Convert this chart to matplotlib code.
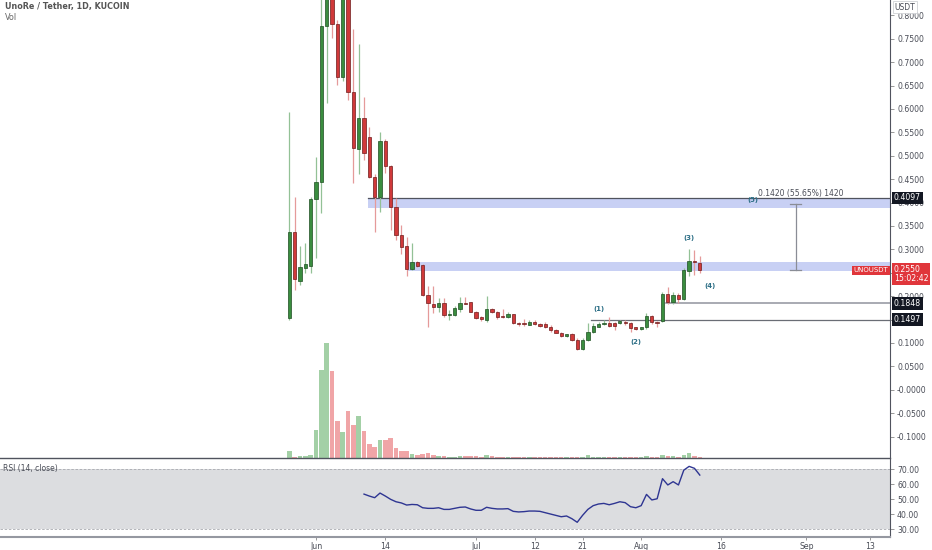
import matplotlib.pyplot as plt
import numpy as np
import pandas as pd

# daily candles UNO/USDT (KuCoin), 27 May -> 12 Aug 2021
start_date = '2021-05-27'
opens = [0.1526, 0.3376, 0.232, 0.261, 0.265, 0.4075, 0.443, 0.778, 0.95, 0.781,
         0.669, 0.92, 0.637, 0.514, 0.580, 0.541, 0.455, 0.412, 0.532, 0.477,
         0.391, 0.3305, 0.306, 0.257, 0.272, 0.266, 0.2024, 0.183, 0.176, 0.186,
         0.160, 0.160, 0.172, 0.186, 0.187, 0.167, 0.156, 0.150, 0.173, 0.167,
         0.158, 0.156, 0.161, 0.143, 0.141, 0.139, 0.144, 0.141, 0.140, 0.135,
         0.128, 0.122, 0.114, 0.119, 0.106, 0.0863, 0.106, 0.124, 0.135, 0.140,
         0.143, 0.142, 0.142, 0.145, 0.143, 0.133, 0.129, 0.133, 0.157, 0.145,
         0.1475, 0.2045, 0.188, 0.203, 0.193, 0.254, 0.275, 0.270]
highs = [0.593, 0.411, 0.306, 0.314, 0.412, 0.497, 0.86, 1.05, 0.98, 0.79,
         1.00, 0.96, 0.770, 0.738, 0.625, 0.562, 0.46, 0.55, 0.535, 0.48,
         0.409, 0.351, 0.327, 0.313, 0.275, 0.268, 0.2216, 0.221, 0.197, 0.197,
         0.170, 0.178, 0.199, 0.199, 0.188, 0.168, 0.158, 0.200, 0.175, 0.169,
         0.172, 0.165, 0.162, 0.145, 0.152, 0.148, 0.149, 0.143, 0.145, 0.138,
         0.130, 0.124, 0.120, 0.121, 0.110, 0.111, 0.142, 0.142, 0.144, 0.149,
         0.155, 0.144, 0.148, 0.148, 0.145, 0.134, 0.135, 0.164, 0.159, 0.146,
         0.209, 0.220, 0.209, 0.207, 0.259, 0.300, 0.298, 0.286]
lows = [0.150, 0.213, 0.224, 0.250, 0.250, 0.281, 0.377, 0.613, 0.751, 0.651,
        0.66, 0.62, 0.441, 0.460, 0.491, 0.452, 0.338, 0.38, 0.462, 0.341,
        0.32, 0.291, 0.242, 0.256, 0.262, 0.20, 0.1346, 0.163, 0.167, 0.156,
        0.149, 0.158, 0.167, 0.183, 0.165, 0.152, 0.147, 0.145, 0.163, 0.152,
        0.154, 0.154, 0.140, 0.137, 0.137, 0.138, 0.138, 0.135, 0.132, 0.124,
        0.121, 0.113, 0.112, 0.105, 0.084, 0.085, 0.105, 0.122, 0.133, 0.138,
        0.135, 0.128, 0.140, 0.139, 0.124, 0.127, 0.127, 0.129, 0.140, 0.134,
        0.145, 0.183, 0.183, 0.185, 0.192, 0.243, 0.245, 0.250]
closes = [0.3376, 0.236, 0.2615, 0.268, 0.4075, 0.443, 0.778, 0.95, 0.781, 0.669,
          0.92, 0.637, 0.516, 0.581, 0.506, 0.455, 0.412, 0.532, 0.478, 0.391,
          0.3305, 0.304, 0.257, 0.273, 0.265, 0.2024, 0.1846, 0.176, 0.186, 0.160,
          0.162, 0.174, 0.185, 0.184, 0.167, 0.154, 0.152, 0.172, 0.167, 0.156,
          0.156, 0.161, 0.142, 0.140, 0.140, 0.144, 0.141, 0.137, 0.135, 0.128,
          0.122, 0.115, 0.118, 0.106, 0.0863, 0.106, 0.124, 0.136, 0.140, 0.142,
          0.137, 0.137, 0.146, 0.142, 0.132, 0.129, 0.134, 0.157, 0.144, 0.143,
          0.2045, 0.188, 0.2024, 0.194, 0.256, 0.275, 0.272, 0.255]
volumes = [7.3, 1.7, 2.3, 2.3, 3.7, 28.3, 88.3, 115, 87.7, 37.7,
           26.7, 47.7, 33.3, 42.7, 27.3, 14.3, 11, 18, 18, 20.7,
           10, 7, 7.3, 4.3, 3, 4.7, 5.3, 3.3, 2, 2,
           1.7, 1.5, 2, 2, 2.3, 2, 1.7, 3.7, 2.3, 1.3,
           1.5, 1.3, 1.7, 1.3, 1.5, 1.3, 1.3, 1.3, 1.5, 1.3,
           1.3, 1.5, 1.3, 1.3, 1.5, 1.7, 3.7, 1.7, 1.5, 1.3,
           1.7, 1.5, 1.3, 1.3, 1.5, 1.3, 1.5, 2.3, 1.7, 1.5,
           3.7, 2.3, 2.3, 1.7, 3, 5, 2.7, 1]
rsi_first = 14  # RSI(14) starts at the 15th candle
rsi_values = [53.5, 52.2, 51.1, 54.2, 52.2, 50.0, 48.4, 47.6, 46.2, 46.6,
              46.4, 44.4, 44.0, 44.0, 44.4, 43.3, 43.3, 44.0, 44.7, 44.9,
              43.6, 42.7, 42.7, 44.7, 44.0, 43.6, 43.6, 43.8, 42.0, 41.6,
              41.8, 42.2, 42.2, 42.0, 41.1, 40.2, 39.3, 38.4, 38.9, 37.1,
              34.7, 39.3, 43.3, 45.8, 46.9, 47.3, 46.4, 47.3, 48.4, 47.8,
              45.1, 44.4, 45.8, 53.3, 49.6, 50.4, 63.8, 59.6, 61.8, 59.6,
              69.5, 72.0, 70.7, 66.2]

tick_dates = ['2021-06-01', '2021-06-14', '2021-07-01', '2021-07-12', '2021-07-21',
              '2021-08-01', '2021-08-16', '2021-09-01', '2021-09-13']
tick_labels = ['Jun', '14', 'Jul', '12', '21', 'Aug', '16', 'Sep', '13']
price_ticks = [0.80, 0.75, 0.70, 0.65, 0.60, 0.55, 0.50, 0.45, 0.40, 0.35,
               0.30, 0.25, 0.20, 0.15, 0.10, 0.05, 0.0, -0.05, -0.10]
hidden_ticks = [0.25, 0.15]  # covered by the price badges
rsi_ticks = [70, 60, 50, 40, 30]

upper_zone = (0.389, 0.4097)
lower_zone = (0.2543, 0.2722)
level_1848 = 0.1848
level_1497 = 0.1497
last_price = 0.2550
measure_low, measure_high = 0.2558, 0.3968
wave_labels = [('(1)', '2021-07-24', 0.1724), ('(2)', '2021-07-31', 0.1013),
               ('(3)', '2021-08-10', 0.325), ('(4)', '2021-08-14', 0.2209),
               ('(5)', '2021-08-22', 0.4043)]

origin = pd.Timestamp('2021-06-01')
def to_day(d):
    return (pd.Timestamp(d) - origin).days

dates = pd.date_range(start_date, periods=len(opens))
days = np.array([(d - origin).days for d in dates], dtype=float)
o, h, l, c = map(np.array, (opens, highs, lows, closes))
up = c >= o

green_body, green_edge, green_wick = '#3a8d3f', '#1e4d22', '#93c196'
red_body, red_edge, red_wick = '#d0393a', '#6e1c1c', '#e59a9a'
axis_col = '#50535e'
text_col = '#4a4d57'

fig = plt.figure(figsize=(9.32, 5.5), dpi=100)
ax = fig.add_axes([0, 0.1667, 0.955, 0.8333])
ax_vol = ax.twinx()
ax_rsi = fig.add_axes([0, 0.0245, 0.955, 0.1409], sharex=ax)

# volume behind candles
ax_vol.bar(days, volumes, width=0.85, color=np.where(up, '#a3d0a6', '#f0a5a7'), zorder=1)
ax_vol.set_ylim(0, 458.3)
ax_vol.set_yticks([])
for s in ax_vol.spines.values():
    s.set_visible(False)
ax.set_zorder(ax_vol.get_zorder() + 1)
ax.patch.set_visible(False)

# zones and levels
x0, x1 = -59.3, 107.7
ax.fill_between([to_day('2021-06-11') - 0.2, x1], upper_zone[0], upper_zone[1],
                color='#c8d0f4', lw=0, zorder=1)
ax.plot([to_day('2021-06-11') - 0.2, x1], [upper_zone[1]] * 2, color=axis_col, lw=0.9, zorder=2)
ax.fill_between([to_day('2021-06-18'), x1], lower_zone[0], lower_zone[1],
                color='#c8d0f4', lw=0, zorder=1)
ax.plot([to_day('2021-08-05') + 0.6, x1], [level_1848] * 2, color='#9a9ca5', lw=1.2, zorder=2)
ax.plot([to_day('2021-07-23') - 0.4, x1], [level_1497] * 2, color='#6a6d75', lw=0.9, zorder=2)

# candles
ax.vlines(days, l, h, colors=np.where(up, green_wick, red_wick), lw=0.9, zorder=3)
ax.bar(days, np.maximum(np.abs(c - o), 0.0015), bottom=np.minimum(o, c), width=0.62,
       color=np.where(up, green_body, red_body), edgecolor=np.where(up, green_edge, red_edge),
       linewidth=0.5, zorder=4)

# measure tool
mx = to_day('2021-08-30')
ax.plot([mx, mx], [measure_low, measure_high], color='#8a8d96', lw=0.9, zorder=3)
for yv in (measure_low, measure_high):
    ax.plot([mx - 1, mx + 1], [yv, yv], color='#8a8d96', lw=0.9, zorder=3)
ax.text(mx + 1, 0.4197, '0.1420 (55.65%) 1420', fontsize=5.5, color=text_col,
        ha='center', va='center', zorder=5)

for lab, d, p in wave_labels:
    ax.text(to_day(d), p, lab, fontsize=5, color='#2d6f86', ha='center', va='center',
            fontweight='bold', zorder=5)

ax.set_xlim(x0, x1)
ax.set_ylim(-0.1466, 0.8327)
ax.yaxis.tick_right()
ax.set_yticks(price_ticks)
ax.set_yticklabels(['' if v in hidden_ticks else ('-0.0000' if v == 0 else f'{v:.4f}')
                    for v in price_ticks])
ax.tick_params(axis='y', labelsize=5.6, colors=text_col, length=3, width=0.6, pad=2,
               color='#888')
ax.tick_params(axis='x', bottom=False, labelbottom=False)
for side in ('left', 'top'):
    ax.spines[side].set_visible(False)
ax.spines['right'].set_color(axis_col)
ax.spines['bottom'].set_color(axis_col)
ax.spines['bottom'].set_linewidth(1.0)

# price badges
def badge(y, txt, fc, x=1.004, ha='left', size=5.6, va='center'):
    ax.text(x, y, txt, transform=ax.get_yaxis_transform(), ha=ha, va=va, fontsize=size,
            color='white', clip_on=False, zorder=10, linespacing=1.05,
            bbox=dict(boxstyle='square,pad=0.25', fc=fc, ec='none'))

badge(upper_zone[1], '0.4097', '#131722')
badge(level_1848, '0.1848', '#131722')
badge(level_1497, '0.1497', '#131722')
badge(last_price + 0.0115, '0.2550\n15:02:42', '#e0363b', va='top')
badge(last_price, 'UNOUSDT', '#e0363b', x=0.998, ha='right', size=5)

fig.text(1 - 27 / 932, 1 - 7 / 550, 'USDT', fontsize=5.5, color=text_col, ha='center', va='center',
         bbox=dict(boxstyle='square,pad=0.25', fc='white', ec='#d0d2d6', lw=0.6))

# RSI pane
ax_rsi.axhspan(30, 70, color='#dcdde0', lw=0, zorder=0)
ax_rsi.axhline(70, color='#a8aab0', lw=0.6, ls=(0, (3, 2)), zorder=1)
ax_rsi.axhline(30, color='#a8aab0', lw=0.6, ls=(0, (3, 2)), zorder=1)
ax_rsi.plot(days[rsi_first:], rsi_values, color='#2e3592', lw=1.0, zorder=3)
ax_rsi.set_ylim(25.2, 76.9)
ax_rsi.yaxis.tick_right()
ax_rsi.set_yticks(rsi_ticks)
ax_rsi.set_yticklabels([f'{v:.2f}' for v in rsi_ticks])
ax_rsi.tick_params(axis='y', labelsize=5.6, colors=text_col, length=3, width=0.6, pad=2,
                   color='#888')
ax_rsi.set_xticks([to_day(d) for d in tick_dates])
ax_rsi.set_xticklabels(tick_labels)
ax_rsi.tick_params(axis='x', labelsize=5.6, colors=text_col, length=2, width=0.6, pad=2,
                   color='#888')
for side in ('left', 'top'):
    ax_rsi.spines[side].set_visible(False)
ax_rsi.spines['right'].set_color(axis_col)
ax_rsi.spines['bottom'].set_color('#9598a1')
ax_rsi.spines['bottom'].set_linewidth(1.5)
ax_rsi.text(0.003, 0.88, 'RSI (14, close)', transform=ax_rsi.transAxes, fontsize=5.5,
            color=text_col, ha='left', va='center')

fig.text(5 / 932, 1 - 7 / 550, 'UnoRe / Tether, 1D, KUCOIN', fontsize=5.8, color='#555',
         ha='left', va='center', fontweight='bold')
fig.text(5 / 932, 1 - 17 / 550, 'Vol', fontsize=5.8, color='#666', ha='left', va='center')

fig.savefig('out.png', dpi=100)
